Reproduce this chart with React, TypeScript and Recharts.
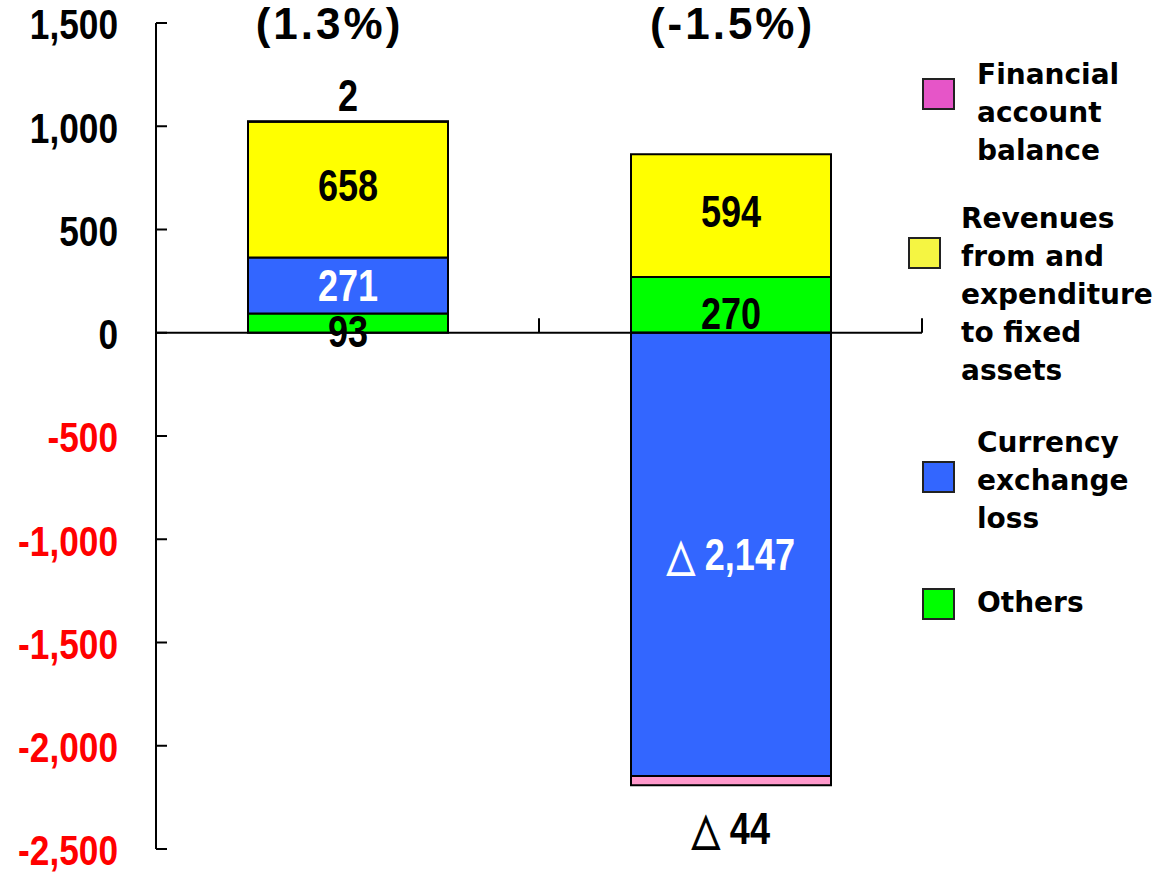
import { Bar, BarChart, LabelList, ReferenceDot, ReferenceLine, XAxis, YAxis } from "recharts";

const PERIODS = ["Previous term", "Current term"];
const OTHERS = [93, 270];
const CURRENCY_LOSS = [271, -2147];
const FIXED_ASSETS = [658, 594];
const FINANCIAL_BALANCE = [2, -44];
const GROWTH_LABELS = ["(1.3%)", "(-1.5%)"];
const Y_TICKS = [1500, 1000, 500, 0, -500, -1000, -1500, -2000, -2500];

const LEGEND_FINANCIAL = ["Financial", "account", "balance"];
const LEGEND_FIXED = ["Revenues", "from and", "expenditure", "to fixed", "assets"];
const LEGEND_CURRENCY = ["Currency", "exchange", "loss"];
const LEGEND_OTHERS = ["Others"];

const data = PERIODS.map((name, i) => ({
  name,
  others: OTHERS[i],
  currency: CURRENCY_LOSS[i],
  fixed: FIXED_ASSETS[i],
  financial: FINANCIAL_BALANCE[i],
}));

const NUM_FONT = "'Liberation Sans', Arial, sans-serif";
const LEGEND_FONT = "'DejaVu Sans', Verdana, sans-serif";

const fmt = (v: number) =>
  v < 0 ? `△ ${Math.abs(v).toLocaleString("en-US")}` : v.toLocaleString("en-US");

// narrow bold numerals: Liberation Sans squeezed horizontally
function NarrowText({
  x,
  y,
  anchor,
  color,
  size = 44,
  squeeze = 0.82,
  spacing = 0,
  children,
}: {
  x: number;
  y: number;
  anchor: "start" | "middle" | "end";
  color: string;
  size?: number;
  squeeze?: number;
  spacing?: number;
  children: React.ReactNode;
}) {
  return (
    <text
      transform={`translate(${x} ${y}) scale(${squeeze} 1)`}
      x={0}
      y={0}
      dy="0.36em"
      textAnchor={anchor}
      fill={color}
      style={{ fontFamily: NUM_FONT, fontWeight: 700, fontSize: size, letterSpacing: spacing }}
    >
      {children}
    </text>
  );
}

function segmentLabel(color: string, mode: "center" | "outside", shift = 0) {
  return (props: any) => {
    const { x, y, width, height, value } = props;
    if (value == null) return null;
    const top = Math.min(y, y + height);
    const bottom = Math.max(y, y + height);
    let cy = (top + bottom) / 2 + shift;
    if (mode === "outside") cy = value >= 0 ? top - 26 : bottom + 43;
    return (
      <NarrowText x={x + width / 2} y={cy} anchor="middle" color={color}>
        {fmt(value)}
      </NarrowText>
    );
  };
}

function YTick(props: any) {
  const { x, y, payload } = props;
  const v = payload.value as number;
  return (
    <NarrowText x={x} y={y + 1} anchor="end" color={v < 0 ? "#FF0000" : "#000"} size={43}>
      {v.toLocaleString("en-US")}
    </NarrowText>
  );
}

const SERIES = [
  { key: "others", fill: "#00FF00", text: "#000", mode: "center" as const, shift: 8 },
  { key: "currency", fill: "#3366FF", text: "#FFF", mode: "center" as const, shift: 0 },
  { key: "fixed", fill: "#FFFF00", text: "#000", mode: "center" as const, shift: -5 },
  { key: "financial", fill: "#FF99CC", text: "#000", mode: "outside" as const, shift: 0 },
];

const LEGEND = [
  { lines: LEGEND_FINANCIAL, color: "#E655C8", mx: 922, my: 78, tx: 977, ty: 56 },
  { lines: LEGEND_FIXED, color: "#F5F542", mx: 908, my: 237, tx: 961, ty: 200 },
  { lines: LEGEND_CURRENCY, color: "#3366FF", mx: 922, my: 461, tx: 977, ty: 424 },
  { lines: LEGEND_OTHERS, color: "#00FF00", mx: 922, my: 588, tx: 977, ty: 584 },
];

const GROWTH_DX = [-18, 2];

export default function App() {
  return (
    <div style={{ position: "absolute", left: 0, top: 0, width: 1156, height: 873, background: "#fff" }}>
      <BarChart
        width={1156}
        height={873}
        data={data}
        stackOffset="sign"
        barSize={200}
        margin={{ top: 23, right: 234, bottom: 24, left: 0 }}
      >
        <XAxis dataKey="name" hide />
        <YAxis
          width={156}
          domain={[-2500, 1500]}
          ticks={Y_TICKS}
          interval={0}
          tick={<YTick />}
          tickSize={-11}
          tickMargin={49}
          axisLine={{ stroke: "#000", strokeWidth: 2 }}
          tickLine={{ stroke: "#000", strokeWidth: 2 }}
        />
        {SERIES.map((s) => (
          <Bar
            key={s.key}
            dataKey={s.key}
            stackId="a"
            fill={s.fill}
            stroke="#000"
            strokeWidth={2}
            isAnimationActive={false}
          >
            <LabelList dataKey={s.key} content={segmentLabel(s.text, s.mode, s.shift)} />
          </Bar>
        ))}
        <ReferenceLine y={0} stroke="#000" strokeWidth={2} />
        {/* short upward ticks at the right edge of each category band */}
        {PERIODS.map((p) => (
          <ReferenceLine
            key={`edge-${p}`}
            position="end"
            ifOverflow="visible"
            segment={[
              { x: p, y: 0 },
              { x: p, y: 70 },
            ]}
            stroke="#000"
            strokeWidth={2}
          />
        ))}
        {PERIODS.map((p, i) => (
          <ReferenceDot
            key={p}
            x={p}
            y={1500}
            r={0}
            ifOverflow="visible"
            label={(props: any) => {
              const vb = props.viewBox || {};
              return (
                <NarrowText
                  x={(vb.x ?? 0) + (vb.width ?? 0) / 2 + GROWTH_DX[i]}
                  y={(vb.y ?? 0) + (vb.height ?? 0) / 2}
                  anchor="middle"
                  color="#000"
                  size={44}
                  squeeze={1}
                  spacing={3}
                >
                  {GROWTH_LABELS[i]}
                </NarrowText>
              );
            }}
          />
        ))}
      </BarChart>
      {LEGEND.map((item) => (
        <div key={item.lines[0]}>
          <div
            style={{
              position: "absolute",
              left: item.mx,
              top: item.my,
              width: 29,
              height: 28,
              background: item.color,
              border: "2px solid #222",
            }}
          />
          <div
            style={{
              position: "absolute",
              left: item.tx,
              top: item.ty,
              fontFamily: LEGEND_FONT,
              fontWeight: 700,
              fontSize: 28,
              lineHeight: "38px",
              color: "#000",
              whiteSpace: "nowrap",
            }}
          >
            {item.lines.map((l) => (
              <div key={l}>{l}</div>
            ))}
          </div>
        </div>
      ))}
    </div>
  );
}
